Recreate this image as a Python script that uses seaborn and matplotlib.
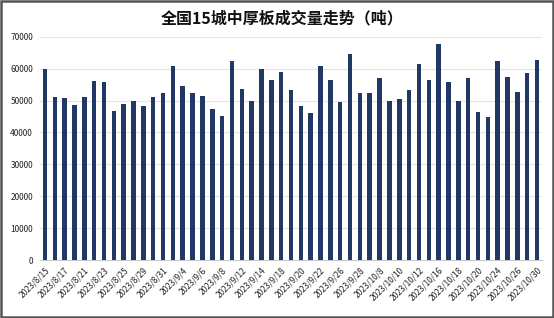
import numpy as np
import pandas as pd
import matplotlib
matplotlib.use("Agg")
import matplotlib.pyplot as plt
import seaborn as sns

dates = ["2023/8/15", "2023/8/16", "2023/8/17", "2023/8/18", "2023/8/21", "2023/8/22",
         "2023/8/23", "2023/8/24", "2023/8/25", "2023/8/28", "2023/8/29", "2023/8/30",
         "2023/8/31", "2023/9/1", "2023/9/4", "2023/9/5", "2023/9/6", "2023/9/7",
         "2023/9/8", "2023/9/11", "2023/9/12", "2023/9/13", "2023/9/14", "2023/9/15",
         "2023/9/18", "2023/9/19", "2023/9/20", "2023/9/21", "2023/9/22", "2023/9/25",
         "2023/9/26", "2023/9/27", "2023/9/28", "2023/10/7", "2023/10/8", "2023/10/9",
         "2023/10/10", "2023/10/11", "2023/10/12", "2023/10/13", "2023/10/16", "2023/10/17",
         "2023/10/18", "2023/10/19", "2023/10/20", "2023/10/23", "2023/10/24", "2023/10/25",
         "2023/10/26", "2023/10/27", "2023/10/30"]
volumes = [60000, 51030, 50710, 48520, 51030, 56240, 55830, 46850, 49040, 49780,
           48210, 51240, 52380, 60730, 54600, 52380, 51440, 47270, 45290, 62300,
           53740, 49780, 60000, 56560, 58960, 53220, 48420, 46230, 60730, 56560,
           49570, 64700, 52380, 52380, 57180, 49880, 50400, 53220, 61460, 56560,
           67830, 55830, 49780, 57180, 46440, 44770, 62510, 57390, 52590, 58750,
           62710]
yticks = [0, 10000, 20000, 30000, 40000, 50000, 60000, 70000]
title = "全国15城中厚板成交量走势（吨）"

sns.set_theme(style="white")
plt.rcParams['font.family'] = ['Noto Sans CJK SC', 'DejaVu Sans']

df = pd.DataFrame({"date": dates, "volume": volumes})

fig = plt.figure(figsize=(5.54, 3.18), dpi=100)
ax = fig.add_axes([40 / 554, 1 - 260 / 318, (542 - 40) / 554, (260 - 36.7) / 318])

sns.barplot(data=df, x="date", y="volume", color="#1F3864", saturation=1,
            width=0.46, linewidth=0, ax=ax, zorder=3)

ax.set_ylim(0, 70000)
ax.set_xlim(-0.5, len(dates) - 0.5)
ax.set_yticks(yticks)
ax.set_yticklabels([str(v) for v in yticks], fontsize=6, color="#222222")
ax.yaxis.grid(True, color="#E3E3E3", linewidth=0.8, zorder=0)
ax.set_xticks(range(0, len(dates), 2))
ax.set_xticklabels(dates[::2], rotation=45, ha="right", rotation_mode="anchor",
                   fontsize=6, color="#222222")
ax.set_xticks(np.arange(-0.5, len(dates), 1.0), minor=True)
ax.tick_params(axis="x", which="major", length=0, pad=4)
ax.tick_params(axis="x", which="minor", length=2.5, color="#C8C8C8", width=0.6)
ax.tick_params(axis="y", length=0, pad=5)
ax.set_xlabel("")
ax.set_ylabel("")
for s in ["top", "right", "left"]:
    ax.spines[s].set_visible(False)
ax.spines["bottom"].set_color("#C8C8C8")
ax.spines["bottom"].set_linewidth(0.8)

fig.text(282 / 554, 1 - 18 / 318, title, ha="center", va="center",
         fontsize=11.5, fontweight="bold", color="#111111")

border = plt.Rectangle((0.002, 0.003), 0.996, 0.994, transform=fig.transFigure,
                       fill=False, edgecolor="#555555", linewidth=1.8)
fig.patches.append(border)

fig.savefig("out.png", dpi=100)
